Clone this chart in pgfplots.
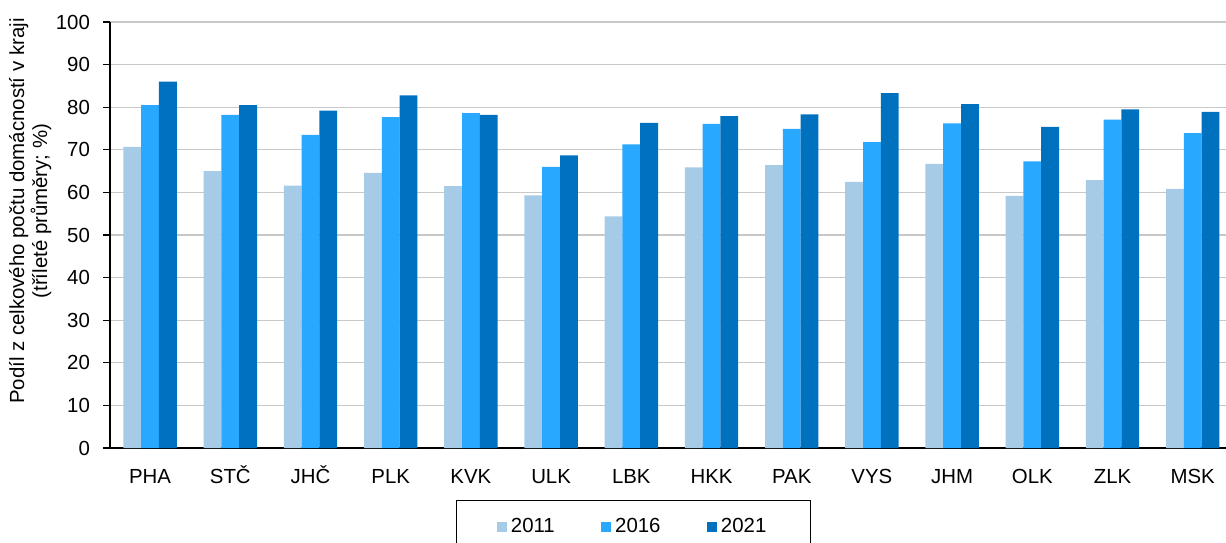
\documentclass[border=0pt]{standalone}
\usepackage{fontspec}
\setmainfont{Liberation Sans}
\usepackage{pgfplots}
\pgfplotsset{compat=1.18}
\definecolor{c11}{HTML}{A6CBE7}
\definecolor{c16}{HTML}{29A8FF}
\definecolor{c21}{HTML}{0071BF}
\definecolor{gridc}{HTML}{C8C8C8}
\newcommand{\fnt}{\fontsize{10.2pt}{11.5pt}\selectfont}

\begin{document}
\begin{tikzpicture}
\useasboundingbox (-55pt,-47pt) rectangle (558pt,224pt);
\begin{axis}[
  at={(0,0)}, anchor=south west,
  scale only axis, width=561.4pt, height=213pt,
  xmin=-0.5, xmax=13.5, ymin=0, ymax=100,
  ybar=0pt, bar width=8.9pt,
  axis lines*=left,
  axis line style={-, black, line width=0.75pt},
  tick align=outside,
  ytick={0,10,...,100},
  ymajorgrids, grid style={gridc, line width=0.65pt},
  major tick length=3.5pt,
  tick style={black, line width=0.6pt},
  xtick={0,...,13},
  xticklabels={PHA,STČ,JHČ,PLK,KVK,ULK,LBK,HKK,PAK,VYS,JHM,OLK,ZLK,MSK},
  x tick style={draw=none},
  extra x ticks={-0.5,0.5,...,13.5},
  extra x tick labels={},
  extra x tick style={tick style={draw=black, line width=0.6pt}, major tick length=3pt},
  /pgf/number format/assume math mode=true,
  tick label style={font=\fnt},
  xticklabel style={text height=7.6pt, text depth=0pt, yshift=-3pt},
  yticklabel style={xshift=-3pt},
  ylabel={Podíl z celkového počtu domácností v kraji\\(tříleté průměry; \%)},
  ylabel style={font=\fnt, align=center, at={(axis description cs:-0.071,0.556)}, anchor=center},
  legend columns=3,
  legend style={at={(axis description cs:0.3082,-0.122)}, anchor=north west,
    draw=black, line width=0.5pt, font=\fnt,
    inner xsep=20pt, inner ysep=7pt,
    /tikz/every even column/.append style={column sep=21pt}},
  legend image code/.code={\fill[#1] (0pt,-2.6pt) rectangle (5.2pt,2.6pt);},
]
\addplot[fill=c11, draw=none] coordinates {
(0,70.7) (1,65.0) (2,61.6) (3,64.6) (4,61.5) (5,59.3) (6,54.4)
(7,65.9) (8,66.4) (9,62.5) (10,66.7) (11,59.2) (12,62.9) (13,60.8)};
\addplot[fill=c16, draw=none] coordinates {
(0,80.5) (1,78.2) (2,73.5) (3,77.7) (4,78.6) (5,66.0) (6,71.3)
(7,76.1) (8,74.9) (9,71.8) (10,76.2) (11,67.3) (12,77.1) (13,73.9)};
\addplot[fill=c21, draw=none] coordinates {
(0,86.0) (1,80.5) (2,79.2) (3,82.8) (4,78.2) (5,68.7) (6,76.3)
(7,77.9) (8,78.3) (9,83.3) (10,80.7) (11,75.4) (12,79.5) (13,78.9)};
\legend{2011,2016,2021}
\end{axis}
\end{tikzpicture}
\end{document}
